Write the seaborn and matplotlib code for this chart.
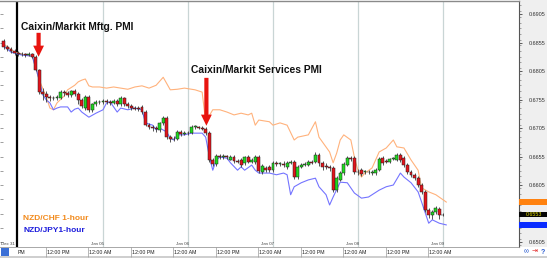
import numpy as np
import matplotlib
matplotlib.use("Agg")
import matplotlib.pyplot as plt
import matplotlib.transforms as mtransforms
from matplotlib.patches import Rectangle
import seaborn as sns

# ---------------- data (prices in pips, i.e. 1e-4) ----------------
hours = list(range(-28, 97))  # hours relative to Jan 05 00:00

open_pips = [6858, 6847, 6844, 6840, 6837, 6835, 6835, 6833, 6835, 6830, 6807, 6768, 6765, 6759, 6758,
             6758, 6758, 6768, 6766, 6763, 6770, 6765, 6754, 6740, 6759, 6737, 6747, 6751, 6751, 6752,
             6751, 6749, 6752, 6747, 6758, 6747, 6744, 6740, 6740, 6742, 6733, 6710, 6707, 6705, 6702,
             6714, 6723, 6689, 6686, 6686, 6698, 6695, 6696, 6696, 6707, 6707, 6705, 6703, 6696, 6649,
             6642, 6656, 6654, 6656, 6649, 6654, 6647, 6649, 6644, 6654, 6645, 6645, 6654, 6628, 6635,
             6637, 6631, 6644, 6642, 6642, 6637, 6644, 6645, 6619, 6637, 6640, 6640, 6645, 6645, 6658,
             6644, 6639, 6637, 6635, 6596, 6614, 6626, 6640, 6652, 6652, 6628, 6631, 6628, 6628, 6626,
             6626, 6631, 6652, 6647, 6645, 6651, 6649, 6658, 6652, 6640, 6628, 6623, 6617, 6605, 6593,
             6561, 6552, 6558, 6563, 6552]
close_pips = [6847, 6844, 6840, 6837, 6835, 6835, 6833, 6835, 6830, 6807, 6768, 6765, 6759, 6758, 6757,
              6759, 6768, 6766, 6763, 6770, 6765, 6754, 6744, 6759, 6737, 6747, 6751, 6750, 6752, 6751,
              6749, 6752, 6747, 6758, 6747, 6744, 6740, 6739, 6738, 6733, 6710, 6707, 6705, 6703, 6714,
              6723, 6689, 6686, 6685, 6698, 6695, 6696, 6697, 6707, 6708, 6705, 6703, 6696, 6649, 6642,
              6656, 6654, 6656, 6654, 6654, 6647, 6646, 6640, 6654, 6645, 6649, 6654, 6630, 6638, 6631,
              6631, 6644, 6642, 6643, 6641, 6644, 6645, 6619, 6637, 6640, 6642, 6645, 6644, 6658, 6644,
              6637, 6636, 6635, 6596, 6617, 6626, 6642, 6652, 6651, 6628, 6627, 6624, 6629, 6627, 6628,
              6631, 6651, 6644, 6646, 6651, 6652, 6658, 6649, 6640, 6628, 6623, 6617, 6605, 6593, 6561,
              6552, 6558, 6565, 6552, 6553]
high_pips = [6861, 6851, 6847, 6844, 6840, 6838, 6837, 6838, 6837, 6833, 6809, 6775, 6770, 6763, 6761,
             6763, 6772, 6772, 6770, 6772, 6773, 6768, 6758, 6763, 6763, 6749, 6754, 6754, 6756, 6756,
             6754, 6756, 6756, 6761, 6759, 6751, 6747, 6744, 6744, 6745, 6737, 6714, 6710, 6709, 6716,
             6726, 6726, 6693, 6691, 6702, 6702, 6700, 6700, 6710, 6710, 6709, 6709, 6707, 6700, 6652,
             6659, 6659, 6659, 6658, 6658, 6658, 6651, 6652, 6656, 6658, 6652, 6658, 6658, 6642, 6638,
             6640, 6647, 6647, 6645, 6647, 6647, 6649, 6649, 6640, 6644, 6645, 6649, 6649, 6663, 6661,
             6647, 6644, 6640, 6638, 6621, 6630, 6645, 6656, 6656, 6656, 6633, 6635, 6631, 6631, 6631,
             6635, 6654, 6656, 6651, 6652, 6654, 6661, 6661, 6656, 6644, 6631, 6626, 6621, 6609, 6596,
             6565, 6561, 6568, 6566, 6556]
low_pips = [6844, 6840, 6837, 6833, 6831, 6831, 6830, 6831, 6828, 6805, 6765, 6754, 6751, 6752, 6754,
            6754, 6756, 6761, 6759, 6759, 6761, 6747, 6740, 6737, 6733, 6733, 6744, 6747, 6747, 6747,
            6745, 6747, 6744, 6744, 6744, 6740, 6737, 6737, 6735, 6730, 6709, 6703, 6700, 6698, 6698,
            6710, 6686, 6680, 6682, 6684, 6691, 6693, 6693, 6695, 6703, 6703, 6702, 6693, 6645, 6638,
            6638, 6651, 6651, 6651, 6649, 6644, 6644, 6637, 6640, 6644, 6644, 6642, 6626, 6624, 6628,
            6628, 6628, 6638, 6638, 6637, 6633, 6642, 6616, 6616, 6635, 6638, 6638, 6642, 6644, 6638,
            6631, 6633, 6630, 6593, 6593, 6612, 6623, 6638, 6647, 6624, 6623, 6621, 6624, 6624, 6623,
            6623, 6630, 6640, 6644, 6644, 6649, 6647, 6645, 6637, 6624, 6619, 6614, 6602, 6589, 6558,
            6547, 6545, 6554, 6545, 6551]

chf_hours = [-28, -25, -22, -20, -18, -16, -15, -14, -13, -11, -10, -8, -7, -6, -5, -4, -3, -1, 1, 3,
             5, 7, 9, 11, 13, 15, 17, 19, 21, 23, 26, 28, 29, 31, 33, 35, 37, 39, 41, 42,
             43, 44, 47, 48, 50, 52, 54, 55, 58, 60, 61, 64, 65, 66, 67, 68, 70, 71, 72, 73,
             74, 76, 78, 80, 82, 83, 85, 87, 89, 90, 92, 94, 97]
chf_pips = [6852, 6838, 6833, 6831, 6789, 6759, 6740, 6737, 6749, 6761, 6772, 6780, 6786, 6789, 6791,
            6779, 6777, 6777, 6775, 6777, 6775, 6773, 6777, 6779, 6775, 6780, 6794, 6772, 6773, 6775,
            6772, 6768, 6716, 6737, 6737, 6733, 6728, 6731, 6728, 6731, 6710, 6719, 6716, 6710, 6714,
            6710, 6684, 6689, 6693, 6716, 6689, 6663, 6644, 6661, 6684, 6693, 6684, 6654, 6631, 6619,
            6626, 6635, 6663, 6670, 6684, 6672, 6670, 6649, 6631, 6600, 6593, 6588, 6575]

jpy_hours = [-28, -26, -23, -20, -18, -17, -16, -15, -14, -13, -12, -10, -9, -8, -7, -6, -4, -2, 0, 1,
             2, 4, 5, 7, 9, 11, 12, 13, 14, 15, 16, 18, 19, 20, 21, 23, 25, 28, 29, 30,
             31, 32, 33, 35, 36, 38, 39, 40, 42, 43, 44, 47, 49, 51, 52, 53, 54, 56, 58, 60,
             61, 63, 64, 65, 67, 69, 71, 73, 75, 76, 78, 80, 82, 84, 85, 87, 89, 90, 92, 93, 95, 97]
jpy_pips = [6849, 6838, 6833, 6831, 6789, 6763, 6754, 6749, 6737, 6740, 6742, 6742, 6733, 6738, 6740,
            6733, 6724, 6731, 6737, 6749, 6751, 6733, 6740, 6737, 6740, 6737, 6714, 6712, 6710, 6702,
            6705, 6698, 6687, 6684, 6693, 6693, 6696, 6696, 6689, 6656, 6631, 6649, 6654, 6652, 6644,
            6631, 6637, 6631, 6640, 6631, 6626, 6626, 6623, 6626, 6623, 6588, 6602, 6609, 6614, 6617,
            6602, 6588, 6570, 6584, 6610, 6609, 6591, 6582, 6584, 6588, 6596, 6602, 6605, 6626, 6619,
            6609, 6593, 6575, 6538, 6544, 6538, 6535]

price_ticks = [0.6505, 0.6555, 0.6605, 0.6655, 0.6705, 0.6755, 0.6805, 0.6855, 0.6905]
price_tick_labels = ["0.6505", "", "0.6605", "0.6655", "0.6705", "0.6755", "0.6805", "0.6855", "0.6905"]
day_hours = [0, 24, 48, 72, 96]
day_labels = ["Jan 05", "Jan 06", "Jan 07", "Jan 08", "Jan 09"]
time_hours = [-12, 0, 12, 24, 36, 48, 60, 72, 84, 96]
time_labels = ["12:00 PM", "12:00 AM", "12:00 PM", "12:00 AM", "12:00 PM",
               "12:00 AM", "12:00 PM", "12:00 AM", "12:00 PM", "12:00 AM"]
separator_hour = -24.4
event_labels = ["Caixin/Markit Mftg. PMI", "Caixin/Markit Services PMI"]
event_hours = [-18.2, 29.2]

# ---------------- conversion ----------------
o = np.array(open_pips) / 1e4
c = np.array(close_pips) / 1e4
hi = np.array(high_pips) / 1e4
lo = np.array(low_pips) / 1e4
chf = np.array(chf_pips) / 1e4
jpy = np.array(jpy_pips) / 1e4

sns.set_theme(style="white")
plt.rcParams["font.family"] = ["Liberation Sans", "DejaVu Sans"]

W, H = 547, 258
fig = plt.figure(figsize=(W / 100, H / 100), dpi=100)
fig.patch.set_facecolor("white")

# right price panel background (behind the axes and its labels)
fig.patches.append(Rectangle((519 / W, 11 / H), 28 / W, 247 / H, transform=fig.transFigure,
                             facecolor="#efefef", edgecolor="none", zorder=-2))
fig.patches.append(Rectangle((0, 0), 1, 2 / H, transform=fig.transFigure,
                             facecolor="#cfcfcf", edgecolor="none", zorder=-2))

ax = fig.add_axes([0, 11 / H, 519 / W, 246 / H])
ax.set_facecolor("white")
ax.set_xlim(-29.1, 117.5)
ax.set_ylim(0.64963, 0.69278)

# day gridlines and separator
ax.vlines(day_hours, 0, 1, transform=ax.get_xaxis_transform(), color="#c9d5d5", lw=0.9, zorder=0)
ax.axvline(separator_hour, color="black", lw=1.6, zorder=1)

# overlay lines
sns.lineplot(x=chf_hours, y=chf, ax=ax, color="#ffb27c", linewidth=0.8, estimator=None, sort=False, zorder=1)
sns.lineplot(x=jpy_hours, y=jpy, ax=ax, color="#7474ff", linewidth=0.8, estimator=None, sort=False, zorder=1)

# candles
colors = ["#1fd81f" if cc > oo else "#e3141c" for oo, cc in zip(o, c)]
ax.vlines(hours, lo, hi, color="#3a3a3a", lw=0.6, zorder=2)
ax.bar(hours, c - o, bottom=o, width=0.82, color=colors, edgecolor="#202020", linewidth=0.35, zorder=3)

# event arrows and labels
arrow_style = "simple,head_length=0.8,head_width=0.78,tail_width=0.3"
ax.annotate("", xy=(event_hours[0], 0.6830), xytext=(event_hours[0], 0.6872),
            arrowprops=dict(arrowstyle=arrow_style, fc="#e8140f", ec="none",
                            shrinkA=0, shrinkB=0, mutation_scale=10), zorder=5)
ax.annotate("", xy=(event_hours[1], 0.6709), xytext=(event_hours[1], 0.6793),
            arrowprops=dict(arrowstyle=arrow_style, fc="#e8140f", ec="none",
                            shrinkA=0, shrinkB=0, mutation_scale=10), zorder=5)
ax.text(21 / 519, 1 - 26 / 246, event_labels[0], transform=ax.transAxes, ha="left", va="center",
        fontsize=7.4, fontweight="bold", color="#111111", zorder=6)
ax.text(191 / 519, 1 - 69 / 246, event_labels[1], transform=ax.transAxes, ha="left", va="center",
        fontsize=7.4, fontweight="bold", color="#111111", zorder=6)

# legend-like labels
ax.text(23 / 519, 1 - 218 / 246, "NZD/CHF 1-hour", transform=ax.transAxes, ha="left", va="center",
        fontsize=6, fontweight="bold", color="#f28a1c")
ax.text(23 / 519, 1 - 230 / 246, "NZD/JPY1-hour", transform=ax.transAxes, ha="left", va="center",
        fontsize=6, fontweight="bold", color="#1c1cdc")

# date labels inside bottom
xt = ax.get_xaxis_transform()
ax.text(separator_hour - 0.4, 0.012, "Dec 31", transform=xt, ha="right", va="center", fontsize=3.2, color="#444444")
for dh, dl in zip(day_hours, day_labels):
    ax.text(dh + 0.3, 0.012, dl, transform=xt, ha="right", va="center", fontsize=3.2, color="#444444")

# time axis
ax.set_xticks([])
for th, tl in zip(time_hours, time_labels):
    ax.text(th - 3.9, -0.022, tl, transform=xt, ha="left", va="center", fontsize=3.8, color="#222222", clip_on=False)
ax.text(separator_hour + 0.3, -0.022, "PM", transform=xt, ha="left", va="center", fontsize=3.8, color="#222222", clip_on=False)
ax.vlines([t - 4.2 for t in time_hours], -0.04, 0, transform=xt, color="#9a9a9a", lw=0.5, clip_on=False)

# right price axis
ax.yaxis.tick_right()
ax.set_yticks(price_ticks)
ax.set_yticklabels(price_tick_labels)
ax.set_yticks(np.arange(0.6500, 0.6928, 0.001), minor=True)
ax.tick_params(axis="y", which="major", right=True, labelright=True, length=2, width=0.6, color="#444444",
               labelsize=4, labelcolor="#333333", pad=5)
ax.tick_params(axis="y", which="minor", right=True, length=1.2, width=0.4, color="#666666")
ax.set_xlabel("")
ax.set_ylabel("")

# left edge marks
ax.hlines(np.arange(0.6505, 0.6928, 0.0025), 0, 0.006, transform=ax.get_yaxis_transform(),
          color="#777777", lw=0.5)

ax.spines["left"].set_visible(False)
ax.spines["top"].set_color("#8a8a8a")
ax.spines["top"].set_linewidth(1.0)
ax.spines["right"].set_color("#555555")
ax.spines["right"].set_linewidth(0.8)
ax.spines["bottom"].set_color("#9a9a9a")
ax.spines["bottom"].set_linewidth(0.6)

# last-value markers on the price scale
bt = mtransforms.blended_transform_factory(ax.transAxes, ax.transData)
half = 0.00048
for val, fc in [(chf[-1], "#ff8210"), (c[-1], "#050505"), (jpy[-1], "#0a2cff")]:
    ax.add_patch(Rectangle((1.0, val - half), 28 / 519, 2 * half, transform=bt,
                           facecolor=fc, edgecolor="none", clip_on=False, zorder=10))
ax.text(1.0 + 15 / 519, c[-1], f"{c[-1]:.4f}", transform=bt, ha="center", va="center",
        fontsize=3.8, color="#e8e000", clip_on=False, zorder=11)

# small toolbar icons
fig.patches.append(Rectangle((1 / W, 2.5 / H), 8 / W, 7.5 / H, transform=fig.transFigure,
                             facecolor="#3b6fd6", edgecolor="none", zorder=5))
fig.text(526 / W, 6 / H, "\u221e", color="#2a5bd0", fontsize=5, va="center", ha="center")
fig.text(535 / W, 6 / H, "\u21e5", color="#e02020", fontsize=5, va="center", ha="center")
fig.text(543 / W, 6 / H, "?", color="#2a5bd0", fontsize=5, fontweight="bold", va="center", ha="center")

fig.savefig("out.png", dpi=100)
